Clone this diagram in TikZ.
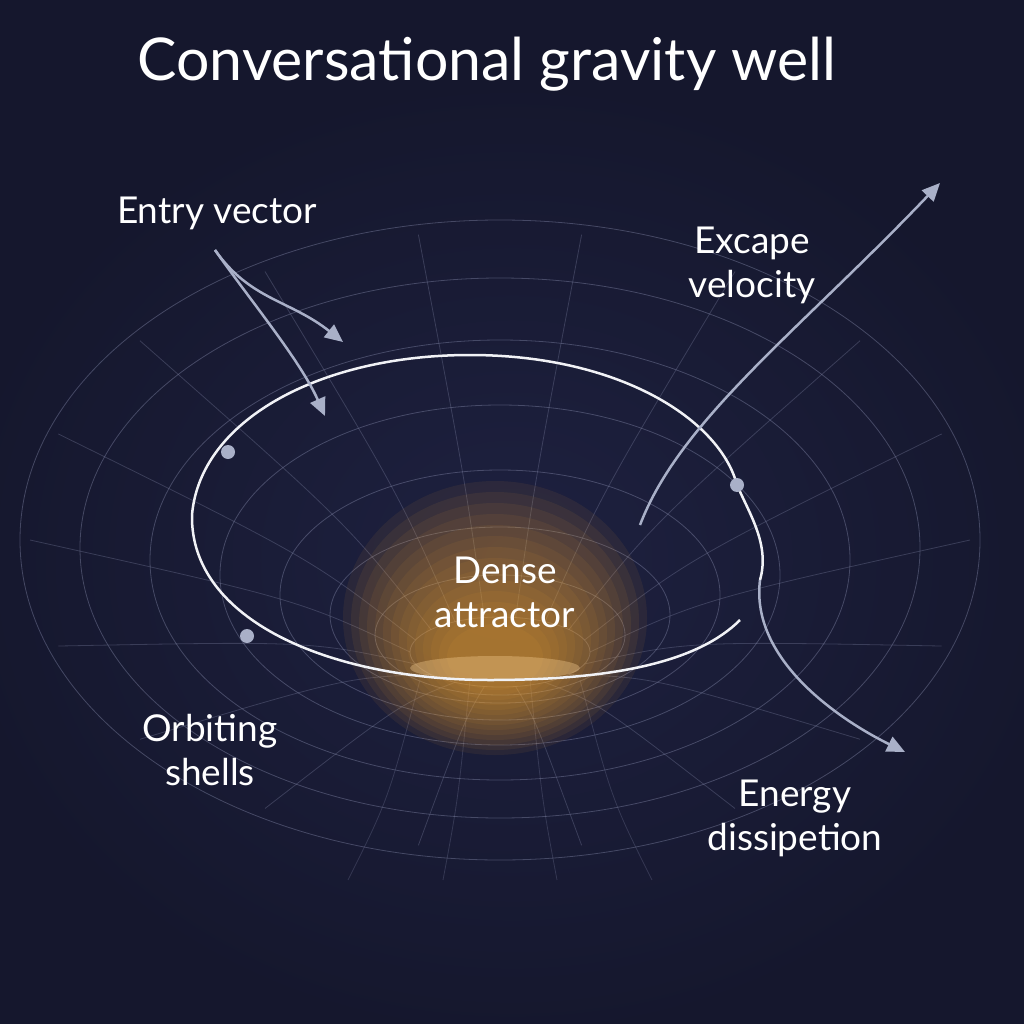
\documentclass[tikz,border=0pt]{standalone}
\usepackage{fontspec}
\setmainfont{Lato}
\usetikzlibrary{arrows.meta}
\definecolor{bgc}{HTML}{15172D}
\definecolor{bgin}{HTML}{1E2140}
\definecolor{gridc}{HTML}{8A8FB0}
\definecolor{arrc}{HTML}{A9B0C8}
\definecolor{glowc}{HTML}{F7A830}
\begin{document}
\begin{tikzpicture}[x=1pt,y=-1pt,
  gridline/.style={draw=gridc,line width=0.8pt,opacity=0.4},
  orbit/.style={draw=white!88!gridc,line width=2.5pt},
  arrowline/.style={draw=arrc,line width=2.5pt,-{Triangle[length=18pt,width=16pt]}},
  lbl/.style={text=white,font=\fontsize{37}{44}\selectfont,align=center},
  dotst/.style={circle,fill=arrc,inner sep=0pt,minimum size=14pt}]
\useasboundingbox (0,0) rectangle (1024,1024);
\fill[bgc] (0,0) rectangle (1024,1024);
\shade[inner color=bgin,outer color=bgc] (512,560) ellipse (560 and 480);
% funnel shells
\foreach \cy/\rx/\ry in {540/480/320, 548/420/270, 560/350/220, 575/280/170, 595/220/125, 615/170/88, 635/125/60, 652/90/35}
  \draw[gridline] (500,\cy) ellipse (\rx pt and \ry pt);
% radial lines
\foreach \a in {0,20,...,340}
  \draw[gridline,opacity=0.3] (500+90*cos \a,652+35*sin \a) .. controls (500+200*cos \a,600+120*sin \a) .. (500+470*cos \a,540+310*sin \a);
\foreach \x in {420,470,530,580}
  \draw[gridline,opacity=0.25] (\x,680) .. controls (\x+0.4*\x-0.4*500,800) .. (\x+0.9*\x-0.9*500,880);
% glow
\foreach \i in {1,...,14}{
  \pgfmathsetmacro{\rxx}{40+8*\i}
  \pgfmathsetmacro{\ryy}{25+8*\i}
  \pgfmathsetmacro{\cyy}{660-3*\i}
  \fill[glowc,opacity=0.07] (495,\cyy) ellipse (\rxx pt and \ryy pt);
}
\fill[glowc!50!white,opacity=0.35] (495,668) ellipse (85pt and 12pt);
% orbit
\coordinate (d3) at (737,485);
\draw[orbit] (d3) .. controls (720,420) and (620,355) .. (470,355)
  .. controls (320,355) and (200,420) .. (192,515)
  .. controls (190,620) and (330,680) .. (490,680)
  .. controls (620,680) and (700,660) .. (740,620);
\draw[orbit] (d3) .. controls (750,515) and (770,545) .. (760,580);
\node[dotst] (d1) at (228,452) {};
\node[dotst] (d2) at (247,636) {};
\node[dotst] (d3n) at (d3) {};
% labels
\node[text=white,font=\fontsize{59}{70}\selectfont] (title) at (487,64) {Conversational gravity well};
\node[lbl] (entry) at (217,213) {Entry vector};
\node[lbl] (escape) at (752,265) {Excape\\velocity};
\node[lbl] (dense) at (505,592) {Dense\\attractor};
\node[lbl] (orbitl) at (210,750) {Orbiting\\shells};
\node[lbl] (energy) at (795,818) {Energy\\dissipetion};
% arrows
\coordinate (e0) at (215,250);
\coordinate (e1) at (343,342);
\coordinate (e2) at (325,416);
\coordinate (x0) at (640,525);
\coordinate (x1) at (940,183);
\coordinate (g0) at (760,580);
\coordinate (g1) at (905,752);
\draw[arrowline] (e0) .. controls (250,300) and (290,300) .. (e1);
\draw[arrowline] (e0) .. controls (250,300) and (300,360) .. (e2);
\draw[arrowline] (x0) .. controls (680,420) and (800,330) .. (x1);
\draw[arrowline] (g0) .. controls (750,660) and (840,720) .. (g1);
\end{tikzpicture}
\end{document}
